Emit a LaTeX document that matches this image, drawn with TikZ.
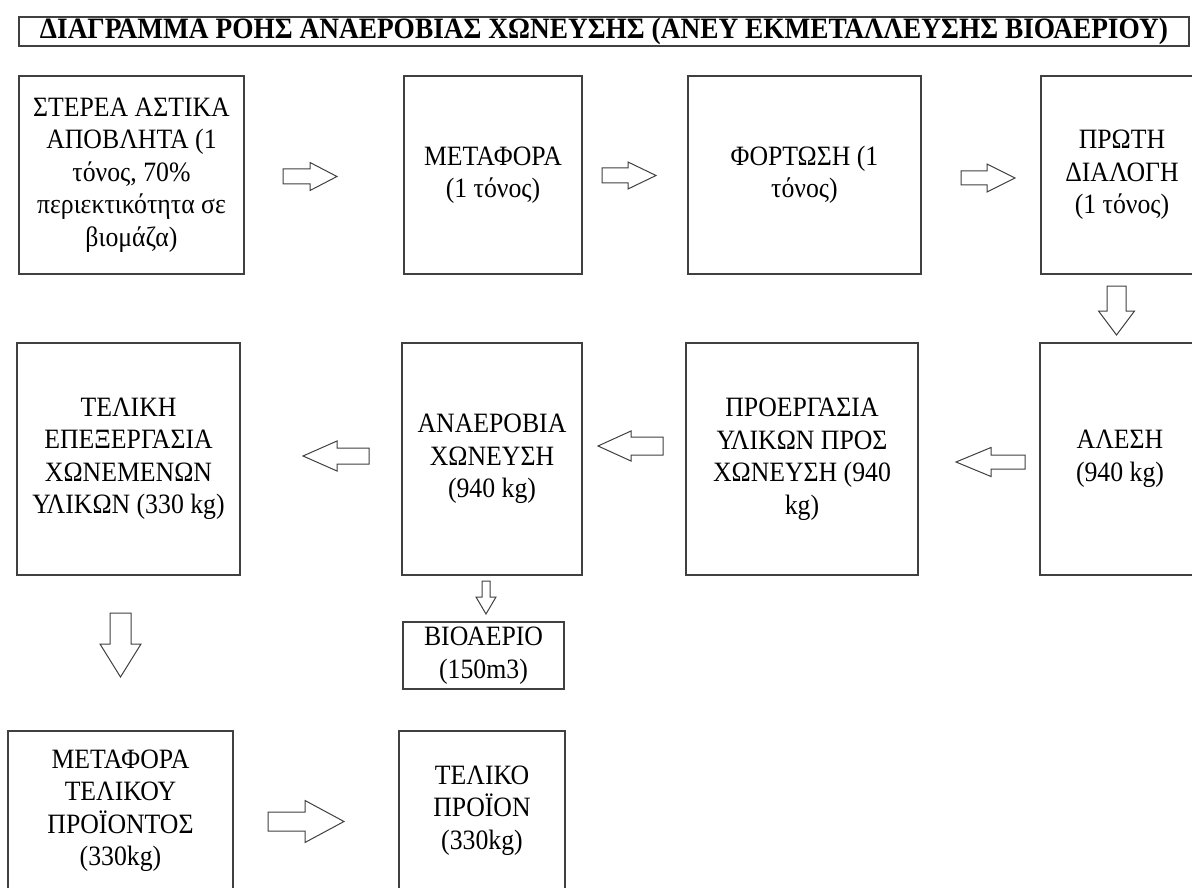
\documentclass[tikz,border=0pt]{standalone}
\usepackage{fontspec}
\setmainfont{Liberation Serif}[FakeStretch=0.92]
\usepackage{graphicx}
\definecolor{edge}{HTML}{404040}
\tikzset{
  box/.style={draw=edge, line width=1.3pt, rectangle, inner sep=0pt, align=center,
    font=\fontsize{28}{32.5}\selectfont},
  blk/.style={draw=edge, line width=1pt, fill=white, line join=miter}
}
\newcommand\arrH[6]{\draw[blk] ({#1},{#4-#5}) -- ({#2},{#4-#5}) -- ({#2},{#4-#6}) -- ({#3},{#4}) -- ({#2},{#4+#6}) -- ({#2},{#4+#5}) -- ({#1},{#4+#5}) -- cycle;}
\newcommand\arrV[6]{\draw[blk] ({#4-#5},{#1}) -- ({#4-#5},{#2}) -- ({#4-#6},{#2}) -- ({#4},{#3}) -- ({#4+#6},{#2}) -- ({#4+#5},{#2}) -- ({#4+#5},{#1}) -- cycle;}
\begin{document}
\begin{tikzpicture}[x=1pt,y=-1pt]
\useasboundingbox (0,0) rectangle (1192,888);
\clip (0,0) rectangle (1192,888);
\fill[white] (0,0) rectangle (1192,888);
% title
\node[box, minimum width=1170pt, minimum height=29pt] (title) at (604,31.5)
  {\resizebox{1128pt}{20.5pt}{\fontsize{28}{30}\selectfont\bfseries ΔΙΑΓΡΑΜΜΑ ΡΟΗΣ ΑΝΑΕΡΟΒΙΑΣ ΧΩΝΕΥΣΗΣ (ΑΝΕΥ ΕΚΜΕΤΑΛΛΕΥΣΗΣ ΒΙΟΑΕΡΙΟΥ)}};
% row 1
\node[box, minimum width=225pt, minimum height=198pt] (b1) at (131.5,175)
  {ΣΤΕΡΕΑ ΑΣΤΙΚΑ\\ ΑΠΟΒΛΗΤΑ (1\\ τόνος, 70\%\\ περιεκτικότητα σε\\ βιομάζα)};
\node[box, minimum width=178pt, minimum height=198pt] (b2) at (493,175)
  {ΜΕΤΑΦΟΡΑ\\ (1 τόνος)};
\node[box, minimum width=233pt, minimum height=198pt] (b3) at (804.5,175)
  {ΦΟΡΤΩΣΗ (1\\ τόνος)};
\node[box, minimum width=162pt, minimum height=198pt] (b4) at (1122,175)
  {ΠΡΩΤΗ\\ ΔΙΑΛΟΓΗ\\ (1 τόνος)};
% row 2
\node[box, minimum width=160pt, minimum height=232pt] (b5) at (1120,459)
  {ΑΛΕΣΗ\\ (940 kg)};
\node[box, minimum width=232pt, minimum height=232pt] (b6) at (802,459)
  {ΠΡΟΕΡΓΑΣΙΑ\\ ΥΛΙΚΩΝ ΠΡΟΣ\\ ΧΩΝΕΥΣΗ (940\\ kg)};
\node[box, minimum width=180pt, minimum height=232pt] (b7) at (492,459)
  {ΑΝΑΕΡΟΒΙΑ\\ ΧΩΝΕΥΣΗ\\ (940 kg)};
\node[box, minimum width=223pt, minimum height=232pt] (b8) at (128.5,459)
  {ΤΕΛΙΚΗ\\ ΕΠΕΞΕΡΓΑΣΙΑ\\ ΧΩΝΕΜΕΝΩΝ\\ ΥΛΙΚΩΝ (330 kg)};
\node[box, minimum width=161pt, minimum height=67pt] (bio) at (483.5,655.5)
  {ΒΙΟΑΕΡΙΟ\\ (150m3)};
% row 3
\node[box, minimum width=225pt, minimum height=159pt] (b9) at (120.5,810.5)
  {ΜΕΤΑΦΟΡΑ\\ ΤΕΛΙΚΟΥ\\ ΠΡΟΪΟΝΤΟΣ\\ (330kg)};
\node[box, minimum width=166pt, minimum height=159pt] (b10) at (482,810.5)
  {ΤΕΛΙΚΟ\\ ΠΡΟΪΟΝ\\ (330kg)};
% block arrows
\arrH{283}{310}{337}{176.5}{7.5}{14}
\arrH{602}{628}{656}{175.5}{7.5}{13.5}
\arrH{961}{987}{1015}{178}{7}{14}
\arrV{286}{311}{335}{1116.5}{9.5}{18}
\arrH{1025}{991}{956}{462}{7}{14.5}
\arrH{663}{631}{598}{446}{9}{15}
\arrH{369}{337}{303}{456}{8}{15}
\arrV{581}{597}{614}{486}{4}{10}
\arrV{613}{644}{677}{120.5}{10.5}{20.5}
\arrH{268}{305}{344}{821.5}{9.5}{21}
\end{tikzpicture}
\end{document}
